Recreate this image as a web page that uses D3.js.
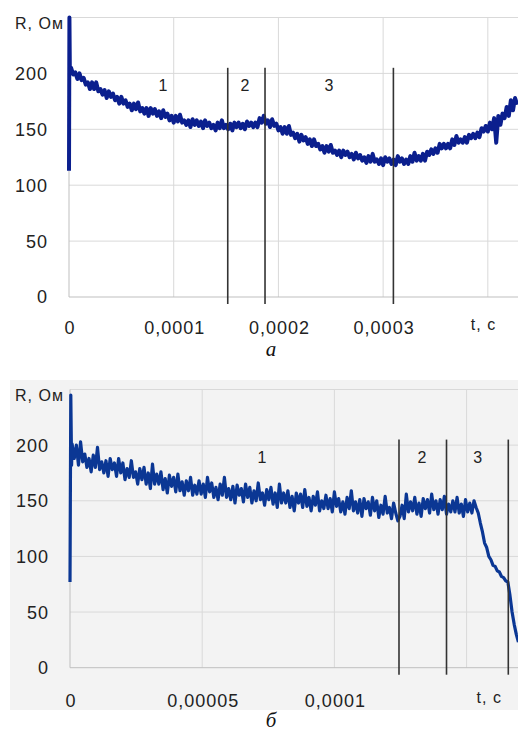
<!DOCTYPE html>
<html>
<head>
<meta charset="utf-8">
<script src="https://cdn.jsdelivr.net/npm/d3@7"></script>
<style>
  html, body { margin: 0; padding: 0; background: #fff; }
  svg { display: block; font-family: "Liberation Sans", Arial, sans-serif; }
</style>
</head>
<body>
<script>
// ---- panel a ----
const yTicks = [0, 50, 100, 150, 200];
const spikeA_t = [0, 0.0000004, 0.0000008];
const spikeA_r = [113, 250, 204];
const stepA = 0.000002; // sampling step of the main trace
const rA = [
  205, 199, 201, 195, 200, 194, 196, 190, 192, 186,
  192, 186, 192, 184, 186, 181, 185, 178, 184, 179,
  182, 176, 179, 173, 179, 173, 176, 170, 173, 167,
  173, 168, 174, 166, 169, 164, 169, 162, 169, 164,
  168, 162, 166, 160, 167, 161, 164, 158, 162, 156,
  162, 157, 163, 156, 158, 154, 158, 152, 159, 154,
  158, 153, 157, 151, 158, 153, 156, 151, 154, 149,
  156, 151, 158, 151, 154, 150, 155, 149, 156, 152,
  156, 151, 155, 150, 157, 153, 156, 152, 156, 152,
  160, 156, 162, 155, 158, 152, 159, 153, 155, 149,
  152, 146, 152, 146, 153, 145, 147, 142, 146, 139,
  145, 140, 143, 137, 141, 135, 141, 135, 137, 132,
  135, 129, 135, 130, 136, 129, 131, 127, 131, 125,
  131, 127, 130, 125, 128, 123, 129, 124, 127, 122,
  125, 120, 126, 121, 128, 121, 123, 119, 124, 118,
  125, 121, 124, 119, 123, 118, 126, 121, 124, 119,
  123, 119, 126, 121, 129, 122, 126, 122, 128, 122,
  130, 127, 132, 128, 133, 129, 137, 133, 137, 133,
  137, 133, 141, 136, 144, 138, 141, 138, 143, 138,
  145, 142, 146, 142, 147, 143, 151, 148, 153, 148,
  156, 150, 160, 138, 162, 154, 164, 160, 170, 162,
  176, 167, 178, 172
];
const ticksA_t = [0, 0.0001, 0.0002, 0.0003, 0.0004];
const tickLabelsA = ["0", "0,0001", "0,0002", "0,0003"];
const bordersA = [0.0001516, 0.0001872, 0.0003098];
const zonesA_t = [0.0000898, 0.0001681, 0.0002483];
const zoneNames = ["1", "2", "3"];

// ---- panel б ----
const spikeB_t = [0, 0.0000003, 0.0000006];
const spikeB_r = [77, 245, 182];
const stepB = 0.0000008;
const rB = [
  201, 188, 200, 182, 203, 185, 192, 180, 188, 176,
  191, 180, 198, 178, 185, 175, 186, 172, 188, 178,
  184, 172, 188, 175, 184, 169, 179, 171, 186, 171,
  176, 165, 179, 169, 180, 165, 175, 161, 183, 165,
  174, 165, 176, 160, 170, 157, 173, 163, 171, 158,
  174, 159, 167, 155, 168, 159, 171, 155, 164, 156,
  168, 156, 165, 153, 171, 158, 166, 153, 162, 151,
  165, 155, 171, 153, 161, 151, 163, 148, 164, 155,
  161, 149, 165, 153, 162, 148, 159, 150, 166, 151,
  157, 146, 160, 151, 162, 147, 157, 144, 165, 148,
  157, 148, 159, 144, 154, 141, 157, 148, 156, 144,
  160, 145, 153, 141, 154, 146, 158, 141, 150, 143,
  155, 143, 152, 140, 158, 145, 152, 140, 149, 138,
  153, 143, 159, 141, 149, 139, 151, 136, 152, 143,
  149, 137, 153, 141, 150, 135, 146, 138, 154, 139,
  144, 134, 148, 139, 132, 136, 146, 134, 156, 140,
  149, 141, 153, 138, 148, 136, 152, 143, 151, 139,
  156, 142, 150, 138, 151, 142, 154, 138, 147, 140,
  150, 140, 153, 139, 147, 136, 151, 140, 148, 139,
  150, 144, 139, 130, 122, 112, 108, 100, 97, 92,
  91, 87, 86, 82, 81, 78, 77, 65, 50, 39,
  30, 23
];
const ticksB_t = [0, 0.00005, 0.0001, 0.00015];
const tickLabelsB = ["0", "0,00005", "0,0001"];
const bordersB = [0.00012443, 0.0001424, 0.00016577];
const zonesB_t = [0.0000726, 0.0001331, 0.0001542];

const W = 518, H = 735;
const svg = d3.select("body").append("svg")
  .attr("width", W).attr("height", H)
  .attr("viewBox", [0, 0, W, H]);

// light gray background of the lower chart
svg.append("rect")
  .attr("x", 10).attr("y", 380).attr("width", W - 10).attr("height", 330)
  .attr("fill", "#f3f3f3");

function panel({ spikeT, spikeR, step, values, tMax, left, top, bottom, lineWidth,
                 ticks, tickLabels, borders, zones, color, caption, captionY, labelDy }) {
  const x = d3.scaleLinear().domain([0, tMax]).range([left, W]);
  const y = d3.scaleLinear().domain([0, 250]).range([bottom, top]);
  const g = svg.append("g");

  // grid
  g.append("g").selectAll("line").data([50, 100, 150, 200, 250]).join("line")
    .attr("x1", left).attr("x2", W)
    .attr("y1", d => y(d)).attr("y2", d => y(d))
    .attr("stroke", "#d9d9d9");
  g.append("g").selectAll("line").data(ticks.slice(1)).join("line")
    .attr("x1", d => x(d)).attr("x2", d => x(d))
    .attr("y1", y(250)).attr("y2", y(0))
    .attr("stroke", "#d9d9d9");
  // axes lines
  g.append("line").attr("x1", left).attr("x2", W).attr("y1", y(0)).attr("y2", y(0))
    .attr("stroke", "#bfbfbf");
  g.append("line").attr("x1", left).attr("x2", left).attr("y1", y(250)).attr("y2", y(0))
    .attr("stroke", "#bfbfbf");

  // y tick labels
  g.append("g").selectAll("text").data(yTicks).join("text")
    .attr("x", left - 21).attr("y", d => y(d)).attr("dy", "0.36em")
    .attr("text-anchor", "end").attr("font-size", 18).attr("letter-spacing", 1)
    .attr("fill", "#222").text(d => d);
  // x tick labels
  g.append("g").selectAll("text").data(tickLabels).join("text")
    .attr("x", (d, i) => x(ticks[i]) + 1).attr("y", y(0) + labelDy)
    .attr("text-anchor", "middle").attr("font-size", 18).attr("letter-spacing", 1)
    .attr("fill", "#222").text(d => d);

  // axis titles
  g.append("text").attr("x", 15).attr("y", y(250) + 11)
    .attr("font-size", 16).attr("letter-spacing", 1).attr("fill", "#222").text("R, Ом");
  g.append("text").attr("x", x(ticks[ticks.length - 1]) + (ticks.length === 5 ? -17 : 10))
    .attr("y", y(0) + labelDy - 4)
    .attr("font-size", 16).attr("letter-spacing", 1).attr("fill", "#222").text("t, c");

  // trace
  const pts = spikeT.map((t, i) => [t, spikeR[i]])
    .concat(values.map((v, i) => [(i + 1) * step, v]));
  g.append("path").datum(pts)
    .attr("fill", "none").attr("stroke", color).attr("stroke-width", lineWidth)
    .attr("stroke-linejoin", "round")
    .attr("d", d3.line().x(d => x(d[0])).y(d => y(d[1])));

  // zone borders
  g.append("g").selectAll("line").data(borders).join("line")
    .attr("x1", d => x(d)).attr("x2", d => x(d))
    .attr("y1", y(205)).attr("y2", y(0) + 7)
    .attr("stroke", "#333").attr("stroke-width", 1.6);
  g.append("g").selectAll("text").data(zones).join("text")
    .attr("x", d => x(d)).attr("y", y(184))
    .attr("text-anchor", "middle").attr("font-size", 16).attr("fill", "#222")
    .text((d, i) => zoneNames[i]);

  // caption
  svg.append("text").attr("x", 271).attr("y", captionY)
    .attr("text-anchor", "middle").attr("font-family", "Liberation Serif, serif")
    .attr("font-style", "italic").attr("font-size", 21).attr("fill", "#111")
    .text(caption);
}

panel({
  spikeT: spikeA_t, spikeR: spikeA_r, step: stepA, values: rA, tMax: 0.0004288,
  left: 69, top: 17.5, bottom: 297, lineWidth: 4, ticks: ticksA_t, tickLabels: tickLabelsA,
  borders: bordersA, zones: zonesA_t, color: "#0b1f8e", caption: "а", captionY: 356, labelDy: 37
});
panel({
  spikeT: spikeB_t, spikeR: spikeB_r, step: stepB, values: rB, tMax: 0.00016944,
  left: 70, top: 389.5, bottom: 667.7, lineWidth: 3.2, ticks: ticksB_t, tickLabels: tickLabelsB,
  borders: bordersB, zones: zonesB_t, color: "#0b3794", caption: "б", captionY: 727, labelDy: 39
});
</script>
</body>
</html>
